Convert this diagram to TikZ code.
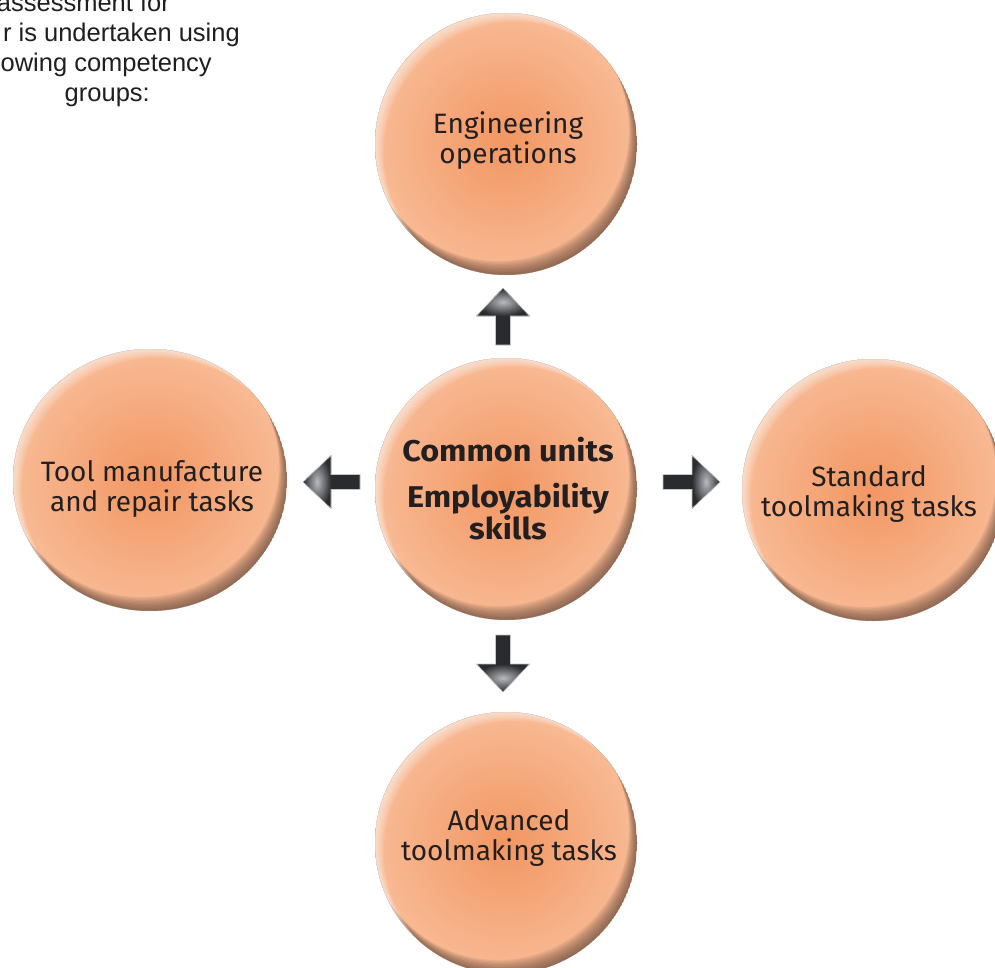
\documentclass[tikz,border=0pt]{standalone}
\usepackage{fontspec}
\setmainfont{Fira Sans}
\newfontfamily\arialfont{Liberation Sans}
\usetikzlibrary{calc}
\definecolor{ballin}{RGB}{242,150,98}
\definecolor{ballout}{RGB}{248,186,148}
\definecolor{ballshadow}{RGB}{100,72,58}
\definecolor{balltextcol}{RGB}{35,31,32}
\definecolor{arrowdark}{RGB}{42,43,46}
\definecolor{arrowlight}{RGB}{185,186,190}
\tikzset{
  balltext/.style={align=center, text=balltextcol, font=\fontsize{28}{30}\selectfont, inner sep=0pt},
  centertext/.style={align=center, text=balltextcol, font=\fontsize{30}{27}\selectfont\bfseries\addfontfeature{FakeStretch=1.08}, inner sep=0pt},
  introtext/.style={anchor=base east, font=\arialfont\fontsize{25.5}{30}\selectfont, text=black!88, inner sep=0pt},
  arrowbody/.style={fill=arrowdark},
  arrowedge/.style={draw=gray!45, line width=0.6pt},
}
\newcommand\myball[4]{%
  \begin{scope}
    \clip (#1,#2) ellipse ({#3pt} and {#4pt});
    \shade[inner color=ballin, outer color=ballout] (#1,#2) ellipse ({#3pt} and {#4pt});
    \foreach \k in {1,...,10}{
      \fill[ballshadow, fill opacity=0.1, even odd rule] (#1,#2) ellipse ({#3pt} and {#4pt}) (#1-0.8*\k,#2-1.4*\k) ellipse ({#3pt} and {#4pt});
    }
    \foreach \k in {1,...,8}{
      \fill[white, fill opacity=0.09, even odd rule] (#1,#2) ellipse ({#3pt} and {#4pt}) (#1+1.1*\k,#2+1.1*\k) ellipse ({#3pt} and {#4pt});
    }
  \end{scope}}
\newcommand\myarrow[3]{%
  \begin{scope}[shift={(#1,#2)}, rotate=#3]
    \fill[arrowbody] (0,0) -- (-28,-26.5) -- (-28,-7.5) -- (-57,-7.5) -- (-57,7.5) -- (-28,7.5) -- (-28,26.5) -- cycle;
    \shade[inner color=arrowlight, outer color=arrowdark] (0,0) -- (-28,-26.5) -- (-28,26.5) -- cycle;
    \draw[arrowedge] (0,0) -- (-28,-26.5) -- (-28,-7.5) -- (-57,-7.5) -- (-57,7.5) -- (-28,7.5) -- (-28,26.5) -- cycle;
  \end{scope}}
\begin{document}
\begin{tikzpicture}[x=1pt,y=-1pt]
  \path[use as bounding box] (0,0) rectangle (995,968);
  \clip (0,0) rectangle (995,968);
  \fill[white] (0,0) rectangle (995,968);

  % intro text (cut by the left and top edges)
  \node[introtext] (intro1) at (170,12) {assessment for};
  \node[introtext] (intro2) at (240,42) {r is undertaken using};
  \node[introtext] (intro3) at (212,72) {owing competency};
  \node[introtext] (intro4) at (150,102) {groups:};

  % balls
  \myball{506}{144}{131}{131}
  \myball{506}{489}{131}{131}
  \myball{506}{843}{131}{131}
  \myball{873}{490}{131}{131}
  \myball{150}{480}{137}{131}

  \node[balltext] (eng) at (508,141) {Engineering\\operations};
  \node[centertext] (common) at (508,450) {Common units};
  \node[centertext] (employ) at (508,512) {Employability\\skills};
  \node[balltext] (tool) at (152,489) {Tool manufacture\\and repair tasks};
  \node[balltext] (standard) at (869,494) {Standard\\toolmaking tasks};
  \node[balltext] (advanced) at (509,838) {Advanced\\toolmaking tasks};

  % block arrows
  \myarrow{503}{288}{90}
  \myarrow{503}{692}{-90}
  \myarrow{303}{482}{180}
  \myarrow{720}{482}{0}
\end{tikzpicture}
\end{document}
